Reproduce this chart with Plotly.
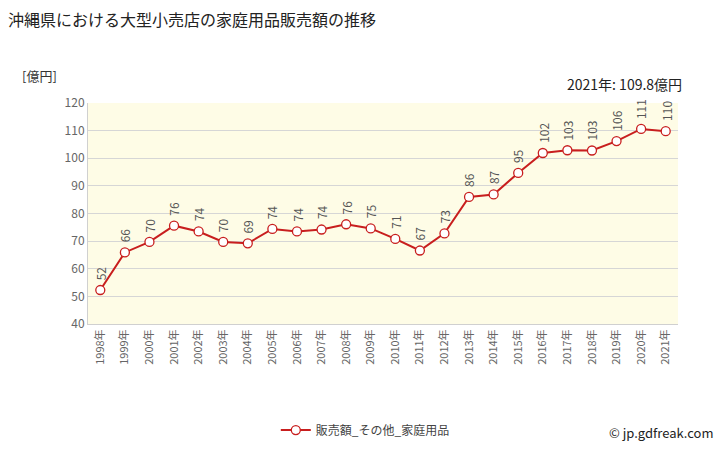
import plotly.graph_objects as go

years = [str(y) + "年" for y in range(1998, 2022)]
values = [52.3, 65.9, 69.7, 75.6, 73.5, 69.7, 69.2, 74.4, 73.5, 74.2, 76.1, 74.6,
          70.8, 66.6, 72.8, 86.0, 86.9, 94.7, 101.9, 102.9, 102.8, 106.2, 110.6, 109.8]
labels = [str(int(round(v))) for v in values]
series_name = "販売額_その他_家庭用品"
title = "沖縄県における大型小売店の家庭用品販売額の推移"
unit = "[億円]"
latest = "2021年: 109.8億円"
credit = "© jp.gdfreak.com"

font = "Noto Sans CJK JP, DejaVu Sans, sans-serif"
red = "#c81e1e"

fig = go.Figure()
fig.add_trace(go.Scatter(
    x=years, y=values, mode="lines+markers", name=series_name,
    line=dict(color=red, width=2),
    marker=dict(size=9, color="white", line=dict(color=red, width=1.3)),
))

fig.update_layout(
    width=728, height=450,
    margin=dict(l=88, r=50, t=103, b=126, autoexpand=False),
    paper_bgcolor="white", plot_bgcolor="#fefce6",
    font=dict(family=font, color="#555555"),
    showlegend=True,
    legend=dict(orientation="h", x=0.47, xanchor="center", y=-0.48, yanchor="middle",
                font=dict(size=12, color="#444444")),
    xaxis=dict(tickangle=-90, tickfont=dict(size=11, color="#666666"),
               showgrid=False, showline=True, linecolor="#d0d0d0", ticks="",
               range=[-0.5, len(years) - 0.5], automargin=False),
    yaxis=dict(range=[40, 120], dtick=10, tickfont=dict(size=12, color="#666666"),
               gridcolor="#d6d6d6", showline=True, linecolor="#d0d0d0", ticks="",
               zeroline=False, automargin=False),
    annotations=[
        dict(text=title, xref="paper", yref="paper", x=0, y=1, xanchor="left", yanchor="top",
             font=dict(size=16, color="#222222"), showarrow=False,
             xshift=-88 + 6, yshift=103 - 5),
        dict(text=unit, xref="paper", yref="paper", x=0, y=1, xanchor="left", yanchor="middle",
             font=dict(size=13, color="#333333"), showarrow=False, xshift=-88 + 20, yshift=103 - 75),
        dict(text=latest, xref="paper", yref="paper", x=1, y=1, xanchor="right", yanchor="middle",
             font=dict(size=14, color="#222222"), showarrow=False, xshift=6, yshift=103 - 84),
        dict(text=credit, xref="paper", yref="paper", x=1, y=0, xanchor="right", yanchor="middle",
             font=dict(size=13, color="#222222"), showarrow=False, xshift=38, yshift=-(432 - 324)),
    ],
)
for x, v, t in zip(years, values, labels):
    fig.add_annotation(x=x, y=v, text=t, textangle=-90, showarrow=False,
                       yanchor="bottom", yshift=8, font=dict(size=12, color="#555555"))

fig.write_html("out.html")
